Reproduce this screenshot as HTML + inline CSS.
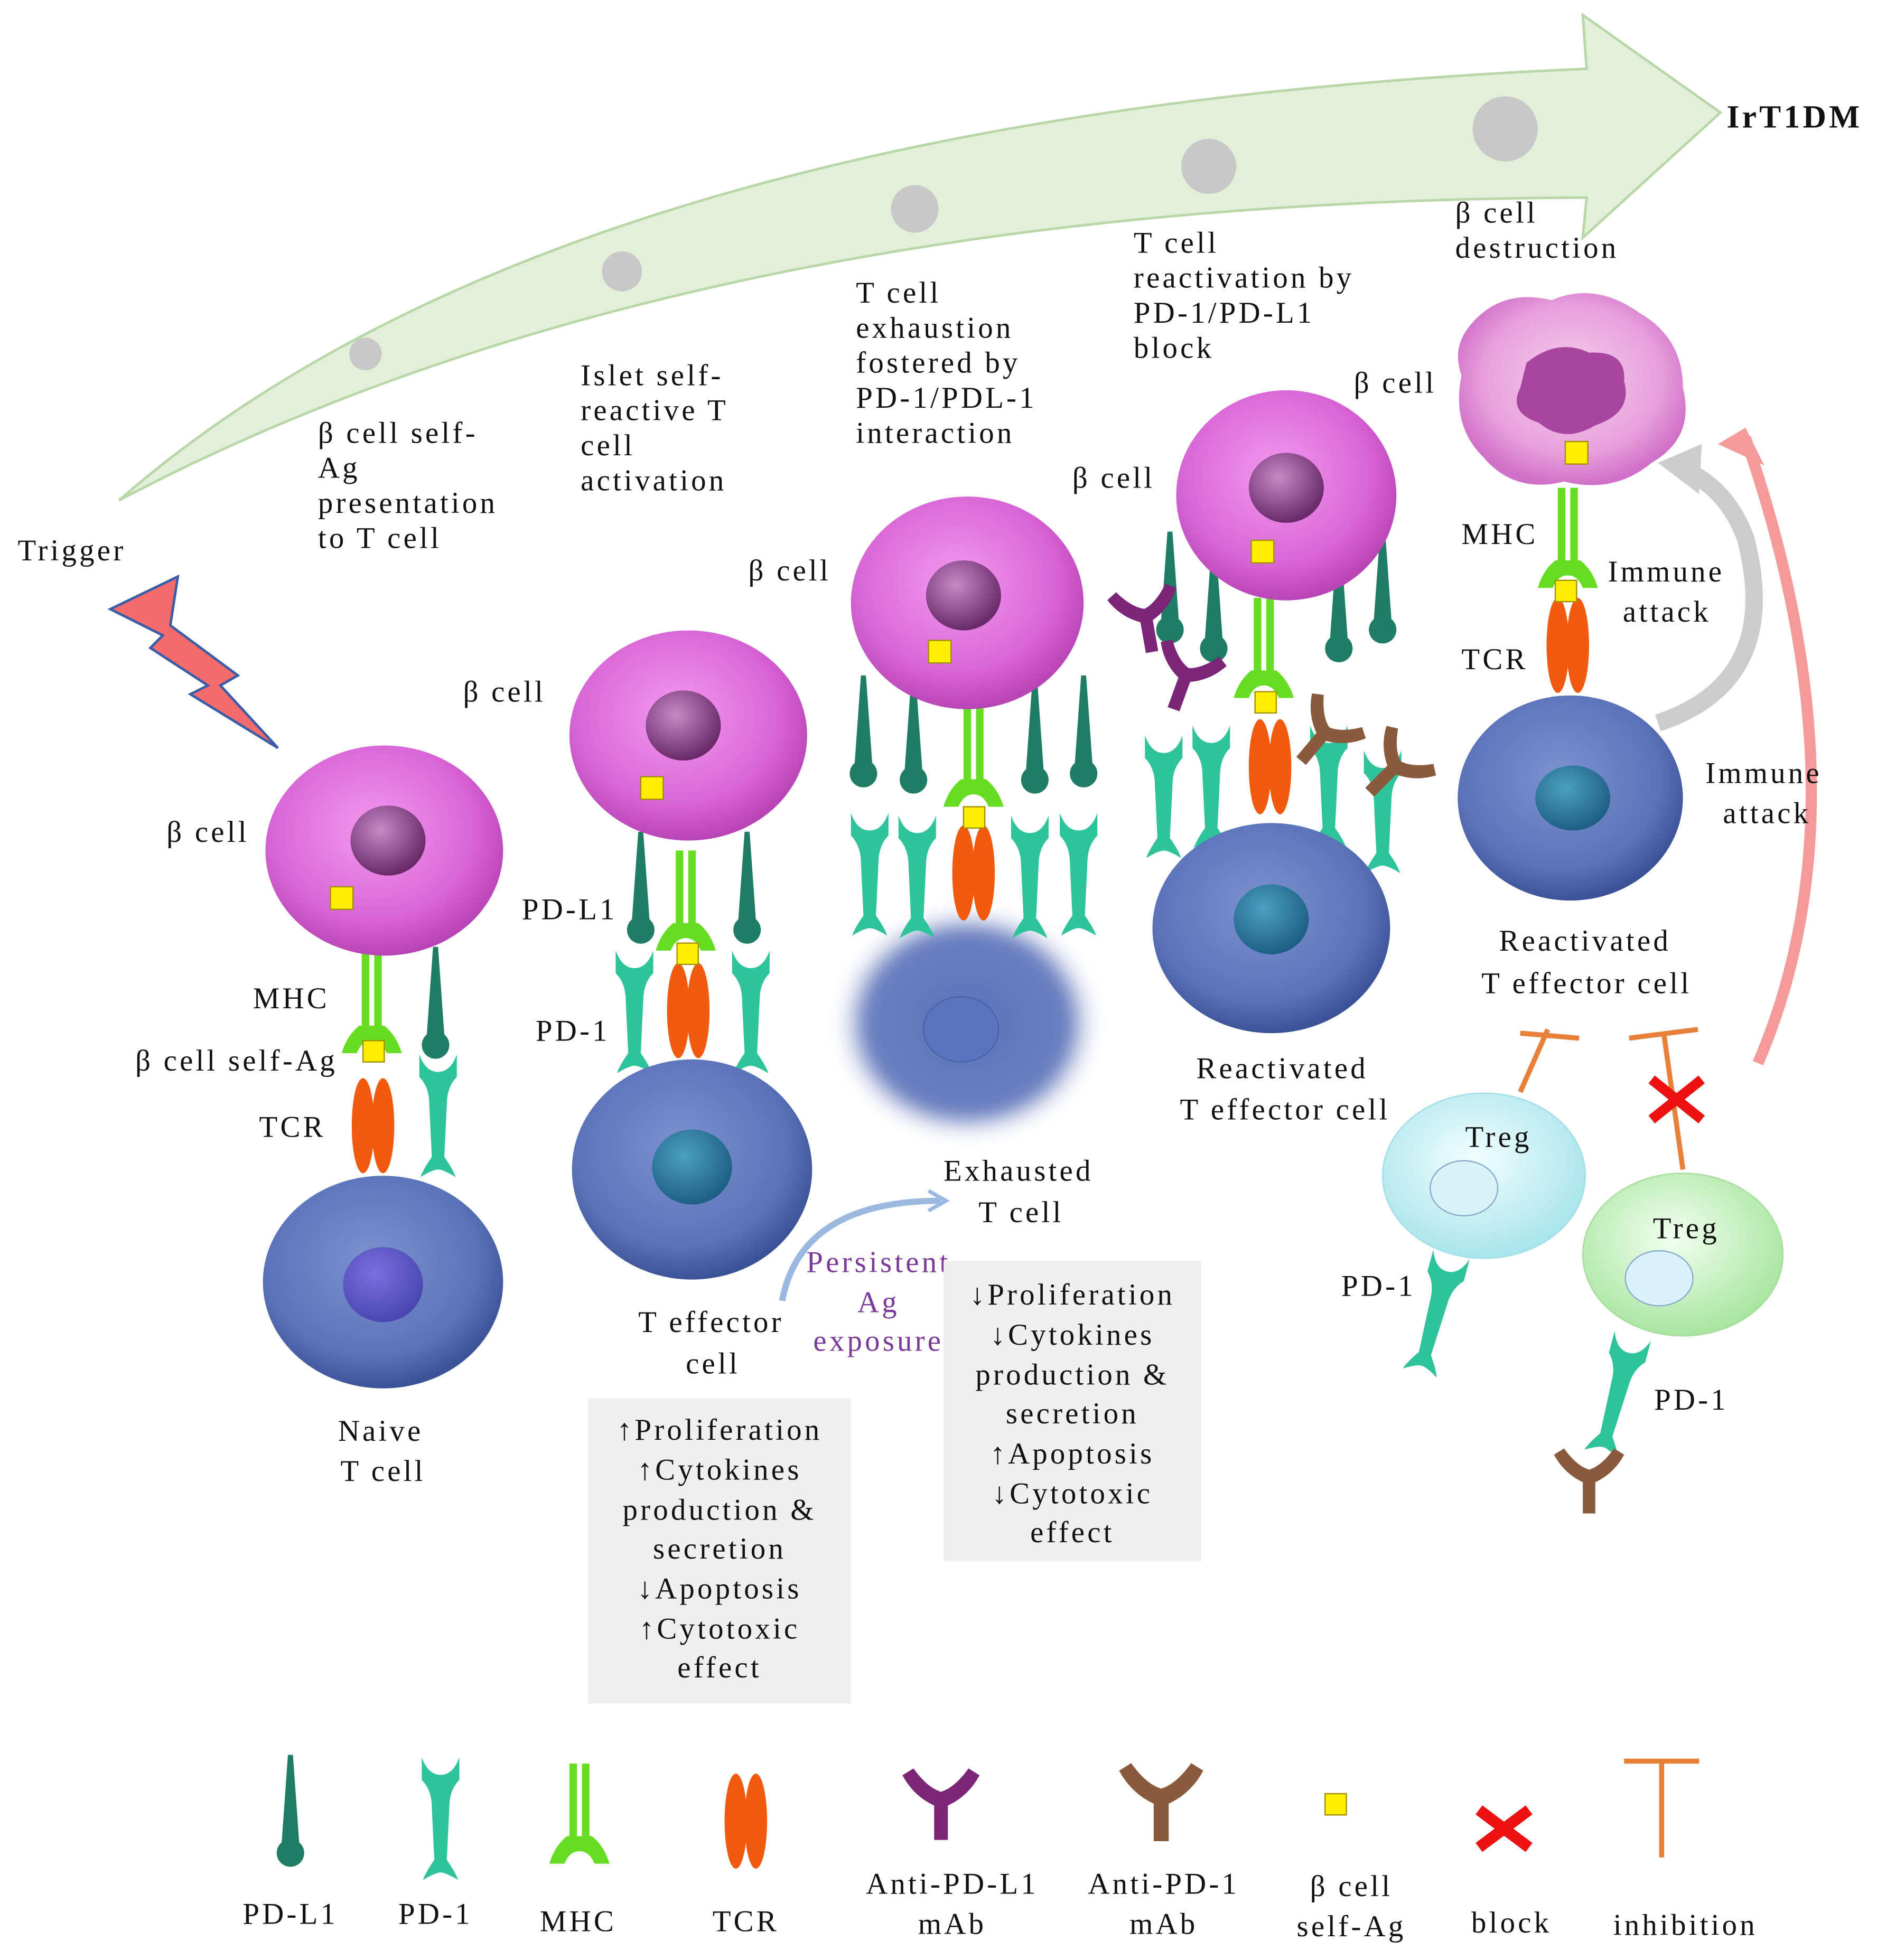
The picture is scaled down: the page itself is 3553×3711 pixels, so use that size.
<!DOCTYPE html>
<html><head><meta charset="utf-8">
<style>
html,body{margin:0;padding:0;background:#fff;}
svg{display:block;}
text{font-family:"Liberation Serif",serif;fill:#111;letter-spacing:2.2px;}
</style></head>
<body>
<svg width="3553" height="3711" viewBox="0 0 1500 1567" xmlns="http://www.w3.org/2000/svg">
<defs>
<radialGradient id="pink" cx="45%" cy="40%" r="60%">
<stop offset="0" stop-color="#f39af0"/><stop offset="0.7" stop-color="#d966d6"/><stop offset="1" stop-color="#b845b5"/></radialGradient>
<radialGradient id="nuc" cx="40%" cy="35%" r="65%">
<stop offset="0" stop-color="#c68ac6"/><stop offset="1" stop-color="#6a2a6a"/></radialGradient>
<radialGradient id="blue" cx="45%" cy="40%" r="60%">
<stop offset="0" stop-color="#7c92d0"/><stop offset="0.75" stop-color="#5a72b8"/><stop offset="1" stop-color="#3c5298"/></radialGradient>
<radialGradient id="bnuc" cx="40%" cy="35%" r="65%">
<stop offset="0" stop-color="#4aa0c0"/><stop offset="1" stop-color="#1f5f86"/></radialGradient>
<radialGradient id="naive" cx="40%" cy="35%" r="65%">
<stop offset="0" stop-color="#7a70e0"/><stop offset="1" stop-color="#4a48b0"/></radialGradient>
<radialGradient id="exh" cx="50%" cy="50%" r="50%">
<stop offset="0" stop-color="#5a72b8"/><stop offset="0.75" stop-color="#6a80c0"/><stop offset="1" stop-color="#ffffff" stop-opacity="0"/></radialGradient>
<radialGradient id="dead" cx="50%" cy="45%" r="55%">
<stop offset="0" stop-color="#f6d0ee"/><stop offset="0.7" stop-color="#e8a0dc"/><stop offset="1" stop-color="#d070c8"/></radialGradient>
<radialGradient id="treg1" cx="45%" cy="40%" r="60%">
<stop offset="0" stop-color="#f2ffff"/><stop offset="1" stop-color="#a9e4ec"/></radialGradient>
<radialGradient id="treg2" cx="45%" cy="40%" r="60%">
<stop offset="0" stop-color="#f2fff0"/><stop offset="1" stop-color="#a8e6a0"/></radialGradient>
<filter id="blur"><feGaussianBlur stdDeviation="6"/></filter>

<g id="pdl1"><path d="M-2,0 L2,0 L7,70 A11,11 0 1 1 -7,70 Z" fill="#1f7d66"/></g>
<g id="pd1"><path d="M-15,0 Q-10,14 0,14 Q10,14 15,0 L15,18 Q7,26 7,40 L5,82 Q12,92 14,98 Q4,92 0,92 Q-4,92 -14,98 Q-12,92 -5,82 L-7,40 Q-7,26 -15,18 Z" fill="#2fc39b"/></g>
<g id="mhc" fill="#66dd22"><rect x="-8" y="0" width="6" height="62"/><rect x="2" y="0" width="6" height="62"/><path d="M-10,58 L10,58 Q20,66 24,80 L12,80 Q8,70 0,70 Q-8,70 -12,80 L-24,80 Q-20,66 -10,58 Z"/></g>
<g id="tcr"><ellipse cx="-8" cy="38" rx="9" ry="38" fill="#f25a0f"/><ellipse cx="8" cy="38" rx="9" ry="38" fill="#f25a0f"/></g>
<g id="ab"><path d="M-5,50 L-5,25 Q-20,18 -28,3 L-20,-2 Q-10,12 0,15 Q10,12 20,-2 L28,3 Q20,18 5,25 L5,50 Z"/></g>
</defs>

<path d="M95,400 Q450,90 1268,55 L1265,12 L1375,90 L1265,190 L1268,158 Q550,160 95,400 Z" fill="#e2efd9" stroke="#b8d6a6" stroke-width="2"/>
<circle cx="292" cy="283" r="13" fill="#c8c8c8"/>
<circle cx="497" cy="217" r="16" fill="#c8c8c8"/>
<circle cx="731" cy="167" r="19" fill="#c8c8c8"/>
<circle cx="966" cy="133" r="22" fill="#c8c8c8"/>
<circle cx="1203" cy="103" r="26" fill="#c8c8c8"/>
<text x="1380" y="102" font-size="26" font-weight="bold">IrT1DM</text>

<g font-size="24">
<text x="254" y="354">β cell self-</text><text x="254" y="382">Ag</text><text x="254" y="410">presentation</text><text x="254" y="438">to T cell</text>
<text x="464" y="308">Islet self-</text><text x="464" y="336">reactive T</text><text x="464" y="364">cell</text><text x="464" y="392">activation</text>
<text x="684" y="242">T cell</text><text x="684" y="270">exhaustion</text><text x="684" y="298">fostered by</text><text x="684" y="326">PD-1/PDL-1</text><text x="684" y="354">interaction</text>
<text x="906" y="202">T cell</text><text x="906" y="230">reactivation by</text><text x="906" y="258">PD-1/PD-L1</text><text x="906" y="286">block</text>
<text x="1163" y="178">β cell</text><text x="1163" y="206">destruction</text>
<text x="14" y="448">Trigger</text>
</g>

<polygon points="88,487 142,461 136,500 190,540 176,548 222,598 152,555 166,548 120,518 130,508" fill="#f46b6b" stroke="#3b5ca8" stroke-width="2"/>

<!-- Cell 1 -->
<use href="#pdl1" transform="translate(348,757)"/>
<use href="#pd1" transform="translate(350,843)"/>
<use href="#mhc" transform="translate(297,762)"/>
<use href="#tcr" transform="translate(298,862)"/>
<ellipse cx="307" cy="680" rx="95" ry="84" fill="url(#pink)"/>
<ellipse cx="310" cy="672" rx="30" ry="28" fill="url(#nuc)"/>
<rect x="264" y="709" width="18" height="18" fill="#ffee00" stroke="#a09000"/>
<rect x="290" y="832" width="17" height="17" fill="#ffee00" stroke="#a09000"/>
<ellipse cx="306" cy="1025" rx="96" ry="85" fill="url(#blue)"/>
<ellipse cx="306" cy="1027" rx="32" ry="30" fill="url(#naive)"/>
<g font-size="24">
<text x="133" y="673">β cell</text><text x="202" y="806">MHC</text><text x="108" y="856">β cell self-Ag</text><text x="207" y="909">TCR</text>
<text x="270" y="1152">Naive</text><text x="272" y="1184">T cell</text>
</g>

<!-- Cell 2 -->
<use href="#pdl1" transform="translate(512,665)"/>
<use href="#pdl1" transform="translate(597,665)"/>
<use href="#pd1" transform="translate(507,760)"/>
<use href="#pd1" transform="translate(600,760)"/>
<use href="#mhc" transform="translate(548,680)"/>
<use href="#tcr" transform="translate(550,770)"/>
<ellipse cx="550" cy="588" rx="95" ry="84" fill="url(#pink)"/>
<ellipse cx="546" cy="580" rx="30" ry="28" fill="url(#nuc)"/>
<rect x="512" y="621" width="18" height="18" fill="#ffee00" stroke="#a09000"/>
<rect x="541" y="754" width="17" height="17" fill="#ffee00" stroke="#a09000"/>
<ellipse cx="553" cy="935" rx="96" ry="88" fill="url(#blue)"/>
<ellipse cx="553" cy="933" rx="32" ry="30" fill="url(#bnuc)"/>
<g font-size="24">
<text x="370" y="561">β cell</text><text x="417" y="735">PD-L1</text><text x="428" y="832">PD-1</text>
<text x="510" y="1065">T effector</text><text x="548" y="1098">cell</text>
</g>
<rect x="470" y="1118" width="210" height="244" fill="#efefef"/>
<g font-size="24" text-anchor="middle">
<text x="575" y="1151">↑Proliferation</text><text x="575" y="1183">↑Cytokines</text><text x="575" y="1215">production &amp;</text><text x="575" y="1246">secretion</text><text x="575" y="1278">↓Apoptosis</text><text x="575" y="1310">↑Cytotoxic</text><text x="575" y="1341">effect</text>
</g>

<!-- Cell 3 -->
<ellipse cx="773" cy="818" rx="108" ry="96" fill="url(#exh)" filter="url(#blur)"/>
<ellipse cx="768" cy="823" rx="30" ry="26" fill="#5a74c0" stroke="#4a62a8"/>
<use href="#pdl1" transform="translate(690,540)"/>
<use href="#pdl1" transform="translate(730,545)"/>
<use href="#pdl1" transform="translate(827,545)"/>
<use href="#pdl1" transform="translate(866,540)"/>
<use href="#pd1" transform="translate(695,650)"/>
<use href="#pd1" transform="translate(733,652)"/>
<use href="#pd1" transform="translate(823,652)"/>
<use href="#pd1" transform="translate(862,650)"/>
<use href="#mhc" transform="translate(778,565)"/>
<use href="#tcr" transform="translate(778,660)"/>
<ellipse cx="773" cy="482" rx="93" ry="85" fill="url(#pink)"/>
<ellipse cx="770" cy="476" rx="30" ry="28" fill="url(#nuc)"/>
<rect x="742" y="512" width="18" height="18" fill="#ffee00" stroke="#a09000"/>
<rect x="770" y="645" width="17" height="17" fill="#ffee00" stroke="#a09000"/>
<g font-size="24">
<text x="598" y="464">β cell</text>
<text x="754" y="944">Exhausted</text><text x="782" y="977">T cell</text>
</g>
<path d="M625,1040 Q640,960 752,960" fill="none" stroke="#9ab8e0" stroke-width="5"/>
<path d="M742,952 L756,960 L742,968" fill="none" stroke="#9ab8e0" stroke-width="3"/>
<g font-size="24" text-anchor="middle">
<text x="702" y="1017" style="fill:#7b3a9a">Persistent</text><text x="702" y="1049" style="fill:#7b3a9a">Ag</text><text x="702" y="1080" style="fill:#7b3a9a">exposure</text>
</g>
<rect x="754" y="1008" width="206" height="240" fill="#efefef"/>
<g font-size="24" text-anchor="middle">
<text x="857" y="1043">↓Proliferation</text><text x="857" y="1075">↓Cytokines</text><text x="857" y="1107">production &amp;</text><text x="857" y="1138">secretion</text><text x="857" y="1170">↑Apoptosis</text><text x="857" y="1202">↓Cytotoxic</text><text x="857" y="1233">effect</text>
</g>

<!-- Cell 4 -->
<use href="#pdl1" transform="translate(935,425)"/>
<use href="#pdl1" transform="translate(970,440)"/>
<use href="#pdl1" transform="translate(1070,440)"/>
<use href="#pdl1" transform="translate(1105,425)"/>
<use href="#pd1" transform="translate(930,588)"/>
<use href="#pd1" transform="translate(968,580)"/>
<use href="#pd1" transform="translate(1062,580)"/>
<use href="#pd1" transform="translate(1105,600)"/>
<use href="#mhc" transform="translate(1010,478)"/>
<use href="#tcr" transform="translate(1015,575)"/>
<ellipse cx="1016" cy="742" rx="95" ry="84" fill="url(#blue)"/>
<ellipse cx="1016" cy="735" rx="30" ry="28" fill="url(#bnuc)"/>
<ellipse cx="1028" cy="396" rx="88" ry="84" fill="url(#pink)"/>
<ellipse cx="1028" cy="390" rx="30" ry="28" fill="url(#nuc)"/>
<rect x="1000" y="432" width="18" height="18" fill="#ffee00" stroke="#a09000"/>
<rect x="1003" y="553" width="17" height="17" fill="#ffee00" stroke="#a09000"/>
<use href="#ab" fill="#7a2578" transform="translate(912,472) rotate(-10)"/>
<use href="#ab" fill="#7a2578" transform="translate(955,520) rotate(20)"/>
<use href="#ab" fill="#8a5a3c" transform="translate(1072,570) rotate(40)"/>
<use href="#ab" fill="#8a5a3c" transform="translate(1130,598) rotate(45)"/>
<g font-size="24">
<text x="857" y="390">β cell</text><text x="1082" y="314">β cell</text>
<text x="956" y="862">Reactivated</text><text x="943" y="895">T effector cell</text>
</g>

<!-- Cell 5 -->
<use href="#mhc" transform="translate(1253,390)"/>
<use href="#tcr" transform="translate(1253,478)"/>
<path d="M1175,260 Q1200,230 1240,240 Q1275,225 1310,250 Q1345,270 1345,310 Q1355,350 1320,370 Q1290,395 1250,385 Q1210,395 1185,365 Q1160,340 1168,300 Q1160,278 1175,260 Z" fill="url(#dead)"/>
<path d="M1220,290 Q1245,270 1270,282 Q1300,280 1298,305 Q1305,330 1275,340 Q1250,355 1230,338 Q1205,330 1215,310 Z" fill="#a8459e"/>
<rect x="1251" y="353" width="18" height="18" fill="#ffee00" stroke="#a09000"/>
<rect x="1243" y="464" width="17" height="17" fill="#ffee00" stroke="#a09000"/>
<ellipse cx="1255" cy="638" rx="90" ry="82" fill="url(#blue)"/>
<ellipse cx="1257" cy="638" rx="30" ry="26" fill="url(#bnuc)"/>
<path d="M1325,578 Q1425,545 1395,430 Q1380,390 1345,375" fill="none" stroke="#cccccc" stroke-width="14"/>
<polygon points="1325,370 1360,355 1358,395" fill="#cccccc"/>
<path d="M1405,850 Q1495,640 1395,350" fill="none" stroke="#f59a9a" stroke-width="9"/>
<polygon points="1373,355 1395,342 1410,372" fill="#f59a9a"/>
<g font-size="24">
<text x="1168" y="435">MHC</text><text x="1168" y="535">TCR</text>
<text x="1285" y="465">Immune</text><text x="1297" y="497">attack</text>
<text x="1363" y="626">Immune</text><text x="1377" y="658">attack</text>
<text x="1198" y="760">Reactivated</text><text x="1184" y="794">T effector cell</text>
</g>

<!-- Tregs -->
<g stroke="#e8803a" stroke-width="4" fill="none">
<line x1="1215" y1="873" x2="1237" y2="823"/><line x1="1215" y1="826" x2="1262" y2="830"/>
<line x1="1345" y1="935" x2="1330" y2="828"/><line x1="1302" y1="830" x2="1357" y2="823"/>
</g>
<g stroke="#ee1111" stroke-width="8"><line x1="1320" y1="863" x2="1360" y2="895"/><line x1="1360" y1="863" x2="1320" y2="895"/></g>
<use href="#pd1" transform="translate(1160,1003) rotate(15)"/>
<use href="#pd1" transform="translate(1305,1068) rotate(15)"/>
<use href="#ab" fill="#8a5a3c" transform="translate(1270,1160) rotate(0)"/>
<ellipse cx="1186" cy="940" rx="81" ry="66" fill="url(#treg1)" stroke="#a0dde6"/>
<ellipse cx="1170" cy="950" rx="27" ry="22" fill="#d8f4f8" stroke="#8ac"/>
<ellipse cx="1345" cy="1003" rx="80" ry="65" fill="url(#treg2)" stroke="#a6dc9c"/>
<ellipse cx="1326" cy="1022" rx="27" ry="22" fill="#dcf2fb" stroke="#8ac"/>
<g font-size="24">
<text x="1171" y="917">Treg</text><text x="1321" y="990">Treg</text>
<text x="1072" y="1036">PD-1</text><text x="1322" y="1127">PD-1</text>
</g>

<!-- Legend -->
<use href="#pdl1" transform="translate(232,1403)"/>
<use href="#pd1" transform="translate(352,1405)"/>
<use href="#mhc" transform="translate(463,1410)"/>
<use href="#tcr" transform="translate(596,1418)"/>
<use href="#ab" fill="#7a2578" transform="translate(752,1416) scale(1.1)"/>
<use href="#ab" fill="#8a5a3c" transform="translate(928,1412) scale(1.2)"/>
<rect x="1059" y="1434" width="17" height="17" fill="#ffee00" stroke="#a09000"/>
<g stroke="#ee1111" stroke-width="9"><line x1="1182" y1="1447" x2="1222" y2="1477"/><line x1="1222" y1="1447" x2="1182" y2="1477"/></g>
<g stroke="#e8803a" stroke-width="4"><line x1="1298" y1="1408" x2="1358" y2="1408"/><line x1="1328" y1="1408" x2="1328" y2="1485"/></g>
<g font-size="24" text-anchor="middle">
<text x="232" y="1538">PD-L1</text><text x="348" y="1538">PD-1</text><text x="462" y="1544">MHC</text><text x="596" y="1544">TCR</text>
<text x="761" y="1514">Anti-PD-L1</text><text x="761" y="1546">mAb</text>
<text x="930" y="1514">Anti-PD-1</text><text x="930" y="1546">mAb</text>
<text x="1080" y="1516">β cell</text><text x="1080" y="1548">self-Ag</text>
<text x="1208" y="1545">block</text><text x="1347" y="1547">inhibition</text>
</g>
</svg>
</body></html>
